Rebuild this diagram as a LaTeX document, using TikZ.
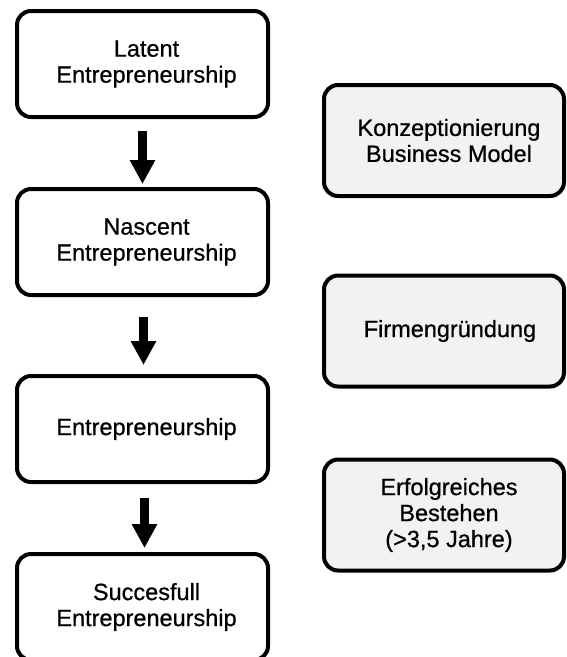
\documentclass[tikz,border=0pt]{standalone}
\usepackage{fontspec}
\setmainfont{Liberation Sans}
\newfontfamily\boxfont{Liberation Sans}[FakeBold=0.7]
\usetikzlibrary{arrows.meta}
\definecolor{boxgray}{HTML}{F2F2F2}
\tikzset{
  stagebox/.style={draw=black, line width=4pt, rounded corners=14pt, fill=white,
    minimum width=251pt, minimum height=106pt, inner sep=0pt},
  phasebox/.style={draw=black, line width=4pt, rounded corners=14pt, fill=boxgray,
    minimum width=240pt, minimum height=111pt, inner sep=0pt},
  boxtext/.style={align=center, inner sep=0pt, font=\boxfont\fontsize{23.5}{26}\selectfont},
  bigarrow/.style={line width=9.5pt, -{Triangle[width=24pt,length=24pt]}}
}
\begin{document}
\begin{tikzpicture}[x=1pt,y=-1pt]
\useasboundingbox (0,0) rectangle (566,657);
\clip (0,0) rectangle (566,657);
% left column
\node[stagebox] (b1) at (142.5,64) {};
\node[boxtext] (t1) at ([xshift=4pt]b1.center) {Latent\\Entrepreneurship};
\node[stagebox] (b2) at (142.5,242) {};
\node[boxtext] (t2) at ([xshift=4pt]b2.center) {Nascent\\Entrepreneurship};
\node[stagebox] (b3) at (142.5,429) {};
\node[boxtext] (t3) at ([xshift=4pt]b3.center) {Entrepreneurship};
\node[stagebox] (b4) at (142.5,607) {};
\node[boxtext] (t4) at ([xshift=4pt,yshift=0pt]b4.center) {Succesfull\\Entrepreneurship};
% right column
\node[phasebox] (r1) at (444,140.5) {};
\node[boxtext] (s1) at ([xshift=5pt]r1.center) {Konzeptionierung\\Business Model};
\node[phasebox] (r2) at (444,331) {};
\node[boxtext] (s2) at ([xshift=6pt]r2.center) {Firmengründung};
\node[phasebox] (r3) at (444,515) {};
\node[boxtext] (s3) at ([xshift=5pt]r3.center) {Erfolgreiches\\Bestehen\\(>3,5 Jahre)};
% arrows
\draw[bigarrow] ([xshift=0pt,yshift=-12pt]b1.south) -- ([yshift=3pt]b2.north);
\draw[bigarrow] ([xshift=1pt,yshift=-20pt]b2.south) -- ([xshift=1pt,yshift=9pt]b3.north);
\draw[bigarrow] ([xshift=2pt,yshift=-14pt]b3.south) -- ([xshift=2pt,yshift=4pt]b4.north);
\end{tikzpicture}
\end{document}
